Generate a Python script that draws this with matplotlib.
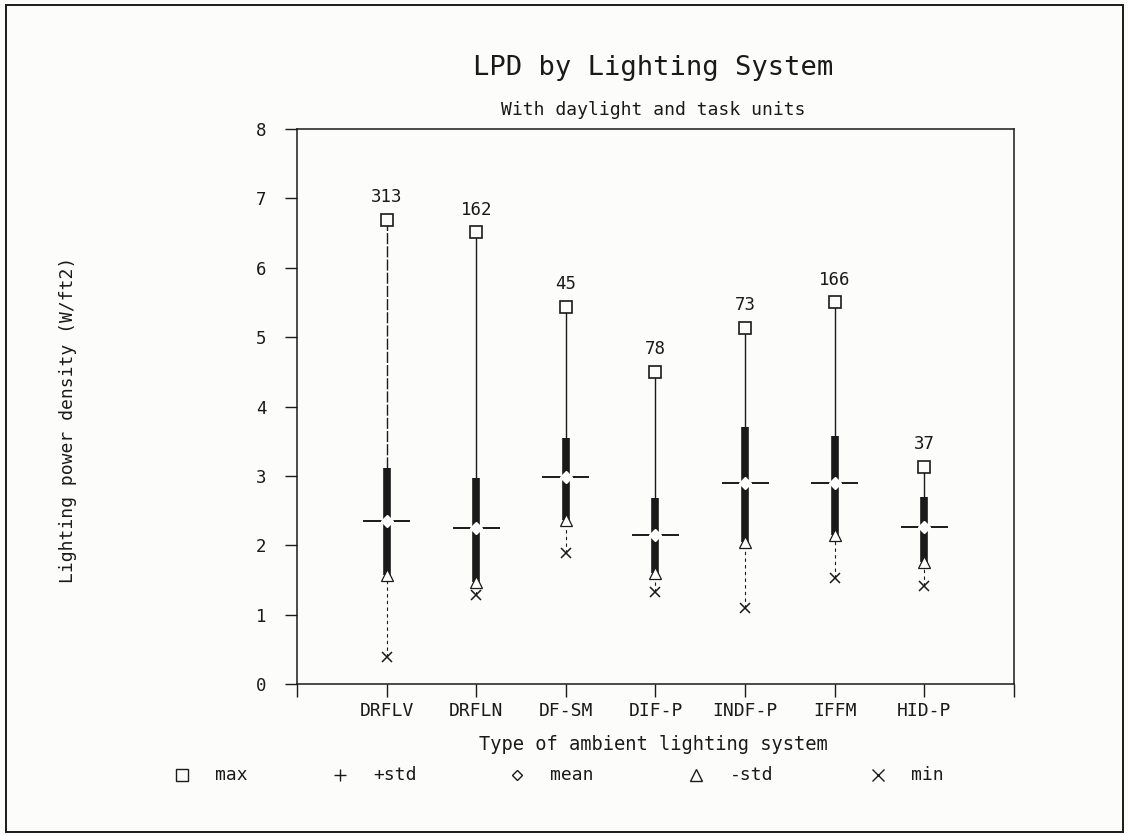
import matplotlib
matplotlib.use("Agg")
import matplotlib.pyplot as plt
from matplotlib.patches import Rectangle

# Lighting power density summary per ambient lighting system
categories = ["DRFLV", "DRFLN", "DF-SM", "DIF-P", "INDF-P", "IFFM", "HID-P"]
counts = [313, 162, 45, 78, 73, 166, 37]
max_vals = [6.69, 6.51, 5.43, 4.50, 5.13, 5.50, 3.13]
plus_std = [3.11, 2.97, 3.54, 2.68, 3.70, 3.58, 2.70]
means = [2.35, 2.25, 2.98, 2.15, 2.90, 2.90, 2.27]
minus_std = [1.57, 1.47, 2.37, 1.60, 2.05, 2.15, 1.76]
min_vals = [0.39, 1.28, 1.89, 1.32, 1.10, 1.53, 1.41]
y_ticks = [0, 1, 2, 3, 4, 5, 6, 7, 8]

legend_labels = ["max", "+std", "mean", "-std", "min"]

FONT = "DejaVu Sans Mono"
INK = "#1a1a1a"
BG = "#fcfcfa"

plt.rcParams["font.family"] = FONT

fig = plt.figure(figsize=(11.28, 8.35), dpi=100, facecolor=BG)
ax = fig.add_axes([0.2633, 0.1808, 0.6356, 0.6647])
ax.set_facecolor(BG)

positions = list(range(1, len(categories) + 1))
half = 0.25

for x, mx, ps, mn, ms, lo, n in zip(positions, max_vals, plus_std, means,
                                     minus_std, min_vals, counts):
    # thin whisker from +std up to the maximum
    ax.plot([x, x], [ps, mx], color=INK, lw=1.0, zorder=2,
            linestyle=(0, (8, 1.5)) if x == 1 else "-")
    # thin dashed whisker from -std down to the minimum
    ax.plot([x, x], [lo, ms], color=INK, lw=0.8, linestyle=(0, (3, 3)), zorder=2)
    # thick bar spanning mean +/- one standard deviation
    ax.plot([x, x], [ms, ps], color=INK, lw=5.5, solid_capstyle="butt", zorder=3)
    # horizontal marker through the mean, broken around the point
    ax.plot([x - half, x - 0.05], [mn, mn], color=INK, lw=1.4, zorder=3)
    ax.plot([x + 0.05, x + half], [mn, mn], color=INK, lw=1.4, zorder=3)
    # point markers
    ax.plot(x, mx, marker="s", ms=8, mfc=BG, mec=INK, mew=1.2, zorder=5)
    ax.plot(x, mn, marker="D", ms=6, mfc="white", mec="white", mew=1.0, zorder=5)
    ax.plot(x, ms, marker="^", ms=8, mfc="white", mec=INK, mew=0.9, zorder=5)
    ax.plot(x, lo, marker="x", ms=7, color=INK, mew=1.1, zorder=5)
    ax.text(x, mx + 0.2, str(n), ha="center", va="bottom", fontsize=12.5,
            color=INK)

ax.set_xlim(0, 8)
ax.set_ylim(0, 8)
ax.set_xticks(range(0, 9))
ax.set_xticklabels([""] + categories + [""], fontsize=13, color=INK)
ax.set_yticks(y_ticks)
ax.set_yticklabels([str(t) for t in y_ticks], fontsize=12.5, color=INK)
ax.tick_params(axis="both", direction="out", length=9, width=1.0, color=INK)
ax.tick_params(axis="x", pad=4)
ax.tick_params(axis="y", pad=13)
for s in ax.spines.values():
    s.set_color(INK)
    s.set_linewidth(1.1)

fig.text(0.579, 0.918, "LPD by Lighting System", ha="center", va="center",
         fontsize=19.5, color=INK)
fig.text(0.579, 0.868, "With daylight and task units", ha="center",
         va="center", fontsize=13, color=INK)
fig.text(0.060, 0.497, "Lighting power density (W/ft2)", rotation=90,
         ha="center", va="center", fontsize=13, color=INK)
fig.text(0.579, 0.108, "Type of ambient lighting system", ha="center",
         va="center", fontsize=13.5, color=INK)

# legend row
leg_y = 0.072
leg_markers = ["s", "+", "D", "^", "x"]
leg_marker_x = [0.161, 0.301, 0.458, 0.617, 0.778]
leg_text_x = [0.191, 0.331, 0.488, 0.647, 0.808]
for mk, mxp, txp, lab in zip(leg_markers, leg_marker_x, leg_text_x, legend_labels):
    size = 5 if mk == "D" else 8
    fig.lines.append(plt.Line2D([mxp], [leg_y], marker=mk, ms=size,
                                mfc="none", mec=INK, mew=1.0, color=INK,
                                linestyle="none", transform=fig.transFigure))
    fig.text(txp, leg_y, lab, ha="left", va="center", fontsize=13, color=INK)

# outer frame around the whole page
fig.patches.append(Rectangle((0.005, 0.004), 0.991, 0.99,
                             transform=fig.transFigure, fill=False,
                             edgecolor=INK, lw=1.4))

fig.savefig("out.png", dpi=100, facecolor=BG)
